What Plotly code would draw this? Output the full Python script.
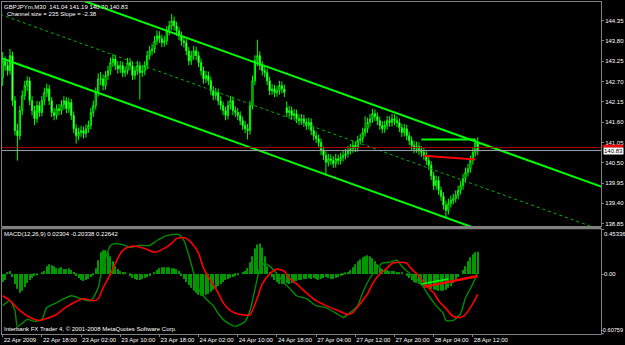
import plotly.graph_objects as go
from plotly.subplots import make_subplots

# ---------------- data ----------------
bars = list(range(195))  # M30 bar index, 0 = 22 Apr 2009 10:00

opens = [
    142.80, 143.26, 143.13, 142.99, 143.40, 142.18, 141.37, 141.23, 141.91, 142.32,
    142.59, 142.72, 142.18, 141.91, 141.69, 142.05, 141.86, 142.18, 142.40, 142.50,
    142.18, 141.86, 141.78, 141.96, 141.91, 142.07, 142.18, 141.96, 142.13, 141.78,
    141.42, 141.23, 141.32, 141.37, 141.29, 141.42, 141.51, 141.86, 142.05, 142.40,
    142.77, 142.77, 142.59, 142.86, 142.99, 143.21, 143.31, 143.13, 143.04, 143.13,
    142.94, 142.99, 143.21, 143.13, 142.86, 142.99, 143.13, 142.94, 142.99, 143.13,
    143.40, 143.53, 143.58, 143.80, 143.94, 143.86, 143.75, 143.80, 144.07, 144.21,
    144.34, 144.21, 144.07, 143.94, 143.80, 143.75, 143.53, 143.26, 143.40, 143.53,
    143.40, 143.21, 142.99, 142.77, 142.86, 142.72, 142.45, 142.32, 142.40, 142.18,
    142.05, 141.91, 141.78, 142.05, 142.18, 141.91, 141.86, 141.78, 141.64, 141.51,
    141.42, 141.37, 142.05, 142.72, 143.26, 143.40, 143.13, 142.99, 142.94, 142.72,
    142.45, 142.50, 142.40, 142.45, 142.59, 142.50, 141.99, 141.86, 141.91, 141.78,
    141.83, 141.69, 141.64, 141.69, 141.59, 141.51, 141.59, 141.37, 141.23, 141.15,
    141.05, 140.83, 140.70, 140.51, 140.61, 140.56, 140.48, 140.61, 140.56, 140.64,
    140.70, 140.75, 140.83, 140.88, 140.97, 140.91, 141.10, 141.15, 141.32, 141.42,
    141.59, 141.69, 141.83, 141.75, 141.64, 141.51, 141.42, 141.51, 141.64, 141.59,
    141.69, 141.64, 141.59, 141.45, 141.32, 141.42, 141.23, 141.10, 140.97, 140.88,
    140.94, 140.83, 140.78, 140.70, 140.56, 140.43, 140.15, 139.88, 140.02, 139.75,
    139.59, 139.35, 139.21, 139.40, 139.48, 139.53, 139.62, 139.75, 139.88, 140.07,
    140.24, 140.34, 140.56, 140.78, 141.04]

highs = [
    143.50, 143.38, 143.24, 143.58, 143.51, 142.31, 141.56, 142.04, 142.46, 142.72,
    142.84, 142.82, 142.30, 142.04, 142.18, 142.16, 142.31, 142.53, 142.64, 142.61,
    142.28, 141.98, 142.08, 142.09, 142.19, 142.30, 142.28, 142.25, 142.23, 141.89,
    141.54, 141.45, 141.50, 141.48, 141.54, 141.64, 141.99, 142.18, 142.54, 142.92,
    142.96, 142.89, 142.98, 143.12, 143.35, 143.44, 143.42, 143.25, 143.26, 143.24,
    143.11, 143.34, 143.33, 143.23, 143.11, 143.26, 143.24, 143.12, 143.25, 143.53,
    143.66, 143.72, 143.93, 144.08, 144.06, 143.97, 143.93, 144.20, 144.34, 144.53,
    144.46, 144.32, 144.18, 144.05, 143.92, 143.86, 143.64, 143.53, 143.66, 143.64,
    143.51, 143.32, 143.10, 142.99, 142.97, 142.83, 142.57, 142.53, 142.51, 142.30,
    142.16, 142.02, 142.18, 142.31, 142.29, 142.03, 141.98, 141.89, 141.75, 141.63,
    141.55, 142.18, 142.86, 143.41, 143.83, 143.52, 143.25, 143.11, 143.05, 142.83,
    142.63, 142.61, 142.58, 142.72, 142.70, 142.62, 142.16, 142.04, 142.02, 141.96,
    141.94, 141.81, 141.82, 141.80, 141.70, 141.72, 141.70, 141.48, 141.35, 141.26,
    141.16, 140.94, 140.81, 140.74, 140.73, 140.68, 140.74, 140.72, 140.77, 140.83,
    140.88, 140.96, 141.01, 141.10, 141.08, 141.23, 141.28, 141.45, 141.76, 141.72,
    141.82, 141.96, 141.94, 141.86, 141.75, 141.63, 141.64, 141.77, 141.76, 141.82,
    141.81, 141.76, 141.70, 141.56, 141.55, 141.53, 141.34, 141.21, 141.09, 141.07,
    141.05, 140.95, 140.90, 140.81, 140.68, 140.54, 140.26, 140.15, 140.13, 139.86,
    139.70, 139.47, 139.53, 139.61, 139.66, 139.75, 139.88, 140.01, 140.20, 140.37,
    140.47, 140.69, 140.91, 141.15, 141.19]

lows = [
    142.58, 142.99, 142.86, 142.89, 142.04, 141.24, 140.56, 141.12, 141.79, 142.20,
    142.44, 142.06, 141.78, 141.52, 141.58, 141.74, 141.76, 142.06, 142.28, 142.06,
    141.74, 141.65, 141.67, 141.79, 141.80, 141.95, 141.84, 141.85, 141.66, 141.30,
    141.02, 141.11, 141.20, 141.16, 141.18, 141.31, 141.40, 141.74, 141.94, 142.29,
    142.60, 142.46, 142.48, 142.74, 142.88, 143.09, 143.01, 142.91, 142.93, 142.82,
    142.83, 142.89, 143.01, 142.74, 142.75, 142.88, 142.21, 142.82, 142.87, 143.02,
    143.29, 143.41, 143.47, 143.69, 143.74, 143.63, 143.64, 143.69, 143.95, 144.09,
    144.08, 143.94, 143.82, 143.67, 143.62, 143.41, 143.14, 143.15, 143.29, 143.28,
    143.09, 142.86, 142.64, 142.66, 142.60, 142.33, 142.19, 142.21, 142.06, 141.93,
    141.79, 141.65, 141.67, 141.94, 141.79, 141.74, 141.66, 141.52, 141.39, 141.30,
    141.13, 141.26, 141.94, 142.60, 143.12, 143.01, 142.86, 142.81, 142.60, 142.33,
    142.34, 142.28, 142.29, 142.34, 142.38, 142.28, 141.74, 141.74, 141.66, 141.67,
    141.57, 141.52, 141.53, 141.47, 141.39, 141.40, 141.25, 141.11, 141.03, 140.93,
    140.71, 140.57, 140.15, 140.40, 140.44, 140.36, 140.37, 140.44, 140.45, 140.53,
    140.59, 140.64, 140.72, 140.77, 140.79, 140.80, 140.99, 141.04, 141.21, 141.31,
    141.48, 141.58, 141.63, 141.52, 141.39, 141.30, 141.31, 141.40, 141.47, 141.48,
    141.52, 141.47, 141.33, 141.20, 141.21, 141.11, 140.98, 140.85, 140.76, 140.77,
    140.71, 140.66, 140.58, 140.44, 140.31, 140.03, 139.76, 139.77, 139.63, 139.47,
    139.23, 139.00, 139.10, 139.29, 139.37, 139.42, 139.51, 139.64, 139.77, 139.96,
    140.13, 140.23, 140.45, 140.67, 140.70]

closes = [
    143.26, 143.13, 142.99, 143.40, 142.18, 141.37, 141.23, 141.91, 142.32, 142.59,
    142.72, 142.18, 141.91, 141.69, 142.05, 141.86, 142.18, 142.40, 142.50, 142.18,
    141.86, 141.78, 141.96, 141.91, 142.07, 142.18, 141.96, 142.13, 141.78, 141.42,
    141.23, 141.32, 141.37, 141.29, 141.42, 141.51, 141.86, 142.05, 142.40, 142.77,
    142.77, 142.59, 142.86, 142.99, 143.21, 143.31, 143.13, 143.04, 143.13, 142.94,
    142.99, 143.21, 143.13, 142.86, 142.99, 143.13, 142.94, 142.99, 143.13, 143.40,
    143.53, 143.58, 143.80, 143.94, 143.86, 143.75, 143.80, 144.07, 144.21, 144.34,
    144.21, 144.07, 143.94, 143.80, 143.75, 143.53, 143.26, 143.40, 143.53, 143.40,
    143.21, 142.99, 142.77, 142.86, 142.72, 142.45, 142.32, 142.40, 142.18, 142.05,
    141.91, 141.78, 142.05, 142.18, 141.91, 141.86, 141.78, 141.64, 141.51, 141.42,
    141.37, 142.05, 142.72, 143.26, 143.40, 143.13, 142.99, 142.94, 142.72, 142.45,
    142.50, 142.40, 142.45, 142.59, 142.50, 142.40, 141.86, 141.91, 141.78, 141.83,
    141.69, 141.64, 141.69, 141.59, 141.51, 141.59, 141.37, 141.23, 141.15, 141.05,
    140.83, 140.70, 140.51, 140.61, 140.56, 140.48, 140.61, 140.56, 140.64, 140.70,
    140.75, 140.83, 140.88, 140.97, 140.91, 141.10, 141.15, 141.32, 141.42, 141.59,
    141.69, 141.83, 141.75, 141.64, 141.51, 141.42, 141.51, 141.64, 141.59, 141.69,
    141.64, 141.59, 141.45, 141.32, 141.42, 141.23, 141.10, 140.97, 140.88, 140.94,
    140.83, 140.78, 140.70, 140.56, 140.43, 140.15, 139.88, 140.02, 139.75, 139.59,
    139.35, 139.21, 139.40, 139.48, 139.53, 139.62, 139.75, 139.88, 140.07, 140.24,
    140.34, 140.56, 140.78, 141.04, 140.83]

macd_hist = [
    -0.08, -0.06, 0.02, 0.03, -0.03, -0.10, -0.15, -0.19, -0.17, -0.13,
    -0.09, -0.06, -0.04, -0.02, -0.01, 0.00, 0.01, 0.03, 0.08, 0.10,
    0.09, 0.08, 0.06, 0.06, 0.07, 0.05, 0.05, 0.06, 0.04, 0.02,
    -0.02, -0.04, -0.06, -0.07, -0.06, -0.05, -0.03, -0.01, 0.06, 0.14,
    0.22, 0.24, 0.24, 0.22, 0.18, 0.13, 0.08, 0.05, 0.03, 0.02,
    0.01, 0.00, -0.02, -0.04, -0.05, -0.06, -0.06, -0.05, -0.04, -0.03,
    -0.02, 0.00, 0.02, 0.04, 0.06, 0.07, 0.07, 0.07, 0.07, 0.06,
    0.06, 0.05, 0.03, -0.02, -0.05, -0.08, -0.11, -0.14, -0.17, -0.19,
    -0.21, -0.22, -0.22, -0.21, -0.20, -0.18, -0.16, -0.14, -0.12, -0.10,
    -0.08, -0.06, -0.05, -0.04, -0.03, -0.02, -0.01, 0.00, 0.02, 0.03,
    0.06, 0.12, 0.18, 0.26, 0.30, 0.31, 0.27, 0.18, 0.08, 0.02,
    -0.03, -0.06, -0.08, -0.10, -0.10, -0.10, -0.09, -0.10, -0.09, -0.08,
    -0.07, -0.06, -0.06, -0.05, -0.05, -0.04, -0.05, -0.04, -0.05, -0.06,
    -0.05, -0.04, -0.03, -0.04, -0.05, -0.05, -0.04, -0.03, -0.02, -0.01,
    0.01, 0.02, 0.04, 0.07, 0.10, 0.13, 0.15, 0.17, 0.18, 0.19,
    0.18, 0.16, 0.13, 0.10, 0.07, 0.05, 0.04, 0.04, 0.03, 0.03,
    0.03, 0.02, 0.02, 0.01, 0.00, -0.02, -0.04, -0.06, -0.08, -0.09,
    -0.10, -0.11, -0.12, -0.13, -0.14, -0.15, -0.16, -0.16, -0.17, -0.17,
    -0.17, -0.16, -0.14, -0.12, -0.09, -0.06, -0.03, 0.00, 0.04, 0.08,
    0.13, 0.17, 0.20, 0.22, 0.22642]

macd_bars = [0, 3, 5, 6, 8, 10, 13, 16, 18, 22, 25, 28, 32, 36, 39, 40, 42, 44, 46, 50,
             52, 56, 60, 63, 67, 69, 72, 74, 76, 78, 80, 83, 86, 88, 91, 95, 99, 101, 102, 104,
             105, 107, 109, 111, 115, 117, 120, 124, 128, 132, 137, 139, 142, 145, 147, 150, 153, 155, 158, 161,
             163, 166, 169, 172, 174, 177, 180, 181, 184, 187, 189, 192, 194]
macd_main = [-0.32, -0.27, -0.37, -0.53, -0.50, -0.46, -0.48, -0.46, -0.34, -0.29, -0.25, -0.22, -0.25, -0.27, -0.14, -0.02, 0.16, 0.29, 0.31, 0.29,
             0.27, 0.29, 0.29, 0.34, 0.39, 0.40, 0.40, 0.34, 0.19, 0.01, -0.15, -0.25, -0.32, -0.40, -0.48, -0.53, -0.48, -0.37, -0.27, -0.04,
             0.06, 0.11, 0.08, 0.03, -0.09, -0.14, -0.22, -0.25, -0.32, -0.34, -0.41, -0.44, -0.39, -0.32, -0.19, -0.04, 0.06, 0.11, 0.12, 0.14,
             0.08, 0.01, -0.05, -0.14, -0.22, -0.32, -0.40, -0.47, -0.47, -0.40, -0.24, -0.10, 0.02304]

signal_bars = [0, 3, 7, 12, 15, 18, 22, 25, 29, 33, 37, 39, 41, 44, 47, 49, 52, 55, 58, 62,
               66, 69, 71, 74, 77, 80, 82, 85, 88, 90, 93, 97, 101, 104, 106, 109, 112, 115, 117, 120,
               124, 128, 132, 137, 141, 143, 146, 149, 151, 154, 157, 159, 162, 165, 167, 170, 173, 176, 178, 181,
               184, 187, 189, 192, 194]
macd_signal = [-0.22, -0.27, -0.37, -0.45, -0.47, -0.45, -0.41, -0.35, -0.29, -0.25, -0.27, -0.25, -0.14, 0.00, 0.16, 0.24, 0.28, 0.28, 0.26, 0.22,
               0.26, 0.31, 0.36, 0.37, 0.32, 0.21, 0.06, -0.07, -0.19, -0.29, -0.37, -0.41, -0.41, -0.24, -0.10, 0.00, 0.05, 0.03, -0.04, -0.10,
               -0.19, -0.27, -0.32, -0.37, -0.41, -0.39, -0.30, -0.20, -0.10, 0.00, 0.06, 0.11, 0.12, 0.11, 0.05, -0.02, -0.12, -0.19, -0.27, -0.35,
               -0.43, -0.44, -0.41, -0.30, -0.20338]

label_bars = [0, 16, 32, 48, 64, 80, 96, 112, 128, 144, 160, 176, 192]
time_labels = ["22 Apr 2009", "22 Apr 18:00", "23 Apr 02:00", "23 Apr 10:00", "23 Apr 18:00",
               "24 Apr 02:00", "24 Apr 10:00", "24 Apr 18:00", "27 Apr 04:00", "27 Apr 12:00",
               "27 Apr 20:00", "28 Apr 04:00", "28 Apr 12:00"]
price_ticks = [144.35, 143.80, 143.25, 142.70, 142.15, 141.60, 141.05, 140.50, 139.95, 139.40, 138.85]
macd_ticks = [0.45336, 0.0, -0.60759]
macd_tick_text = ["0.45336", "0.00", "-0.60759"]

# regression channel (upper line price at bar 0, slope per bar, channel size)
channel_upper_at_0 = 145.67
channel_slope = -0.0238
channel_size = 2.35
channel_span = [-1, 245]

bid_price = 140.83
ask_price = 140.91

# hand-drawn objects
top_line_bars, top_line_price = [171, 193], [141.13, 141.13]
low_line_bars, low_line_price = [172, 193], [140.69, 140.59]
macd_green_bars, macd_green_vals = [171, 182], [-0.10, -0.05]
macd_red_bars, macd_red_vals = [172, 194], [-0.13, -0.02]

# ---------------- figure ----------------
FONT = "Liberation Sans"
GRAY = "#808080"
W, H = 625, 345
ML, MR, MT, MB = 1, 23, 1, 11
PH = H - MT - MB
def py(p):  # pixel row -> paper y
    return (H - MB - p) / PH

fig = make_subplots(rows=2, cols=1, shared_xaxes=True, vertical_spacing=0)

fig.add_trace(go.Candlestick(
    x=bars, open=opens, high=highs, low=lows, close=closes,
    increasing=dict(line=dict(color="#00ff00", width=1), fillcolor="#000000"),
    decreasing=dict(line=dict(color="#00ff00", width=1), fillcolor="#ffffff"),
    whiskerwidth=0, hoverinfo="skip"), row=1, col=1)

def chan(offset):
    return [channel_upper_at_0 - offset + channel_slope * b for b in channel_span]

fig.add_trace(go.Scatter(x=channel_span, y=chan(0), mode="lines",
                         line=dict(color="#00ff00", width=2)), row=1, col=1)
fig.add_trace(go.Scatter(x=channel_span, y=chan(channel_size), mode="lines",
                         line=dict(color="#00ff00", width=2)), row=1, col=1)
fig.add_trace(go.Scatter(x=channel_span, y=chan(channel_size / 2), mode="lines",
                         line=dict(color="#00b400", width=1, dash="dot")), row=1, col=1)

fig.add_trace(go.Scatter(x=channel_span, y=[ask_price, ask_price], mode="lines",
                         line=dict(color="#b00000", width=1)), row=1, col=1)
fig.add_trace(go.Scatter(x=channel_span, y=[bid_price, bid_price], mode="lines",
                         line=dict(color="#9aa4ae", width=1)), row=1, col=1)

fig.add_trace(go.Scatter(x=top_line_bars, y=top_line_price, mode="lines",
                         line=dict(color="#00ff00", width=2)), row=1, col=1)
fig.add_trace(go.Scatter(x=low_line_bars, y=low_line_price, mode="lines",
                         line=dict(color="#ff0000", width=2)), row=1, col=1)

# MACD panel
fig.add_trace(go.Bar(x=bars, y=macd_hist, marker=dict(color="#009a00", line=dict(width=0)),
                     hoverinfo="skip"), row=2, col=1)
fig.add_trace(go.Scatter(x=macd_bars, y=macd_main, mode="lines",
                         line=dict(color="#008c00", width=1.4, shape="spline", smoothing=0.6)), row=2, col=1)
fig.add_trace(go.Scatter(x=signal_bars, y=macd_signal, mode="lines",
                         line=dict(color="#ff0000", width=1.6, shape="spline", smoothing=0.6)), row=2, col=1)
fig.add_trace(go.Scatter(x=macd_red_bars, y=macd_red_vals, mode="lines",
                         line=dict(color="#ff0000", width=2.5)), row=2, col=1)
fig.add_trace(go.Scatter(x=macd_green_bars, y=macd_green_vals, mode="lines",
                         line=dict(color="#00ff00", width=1.5)), row=2, col=1)

xr = [-0.285, 244.33]
axis_common = dict(showgrid=False, zeroline=False, showline=True, linecolor=GRAY,
                   linewidth=1, mirror=True)
fig.update_xaxes(range=xr, **axis_common)
fig.update_layout(
    width=W, height=H, margin=dict(l=ML, r=MR, t=MT, b=MB),
    paper_bgcolor="#000000", plot_bgcolor="#000000", showlegend=False, bargap=0.5,
    font=dict(family=FONT, size=6, color="#ffffff"),
    xaxis=dict(rangeslider=dict(visible=False), showticklabels=False, ticks=""),
    xaxis2=dict(tickmode="array", tickvals=label_bars, ticktext=time_labels, tickangle=0,
                ticks="outside", ticklen=2, tickcolor=GRAY, ticklabelposition="outside right",
                tickfont=dict(family=FONT, size=6, color="#ffffff")),
    yaxis=dict(domain=[py(226), 1], range=[138.778, 144.853], side="right",
               tickmode="array", tickvals=price_ticks,
               ticktext=["%.2f" % v for v in price_ticks],
               ticks="outside", ticklen=2, tickcolor=GRAY,
               tickfont=dict(family=FONT, size=6, color="#ffffff"), **axis_common),
    yaxis2=dict(domain=[0, py(229)], range=[macd_ticks[2], macd_ticks[0]], side="right",
                tickmode="array", tickvals=macd_ticks, showticklabels=False,
                ticks="outside", ticklen=2, tickcolor=GRAY, **axis_common),
)

# separator band between panels
fig.add_shape(type="rect", xref="paper", yref="paper", x0=0, x1=1, y0=py(229), y1=py(226),
              fillcolor=GRAY, line=dict(width=0), layer="above")
# ask price box
fig.add_shape(type="rect", xref="paper", yref="y", x0=1.003, x1=1.037, y0=ask_price, y1=ask_price + 0.08,
              fillcolor="#ff0000", line=dict(width=0))

ann_font = dict(family=FONT, size=6, color="#ffffff")
fig.add_annotation(xref="paper", yref="y2", x=1, y=macd_ticks[0], text=macd_tick_text[0],
                   xanchor="left", yanchor="top", xshift=1, showarrow=False, font=ann_font)
fig.add_annotation(xref="paper", yref="y2", x=1, y=macd_ticks[1], text=macd_tick_text[1],
                   xanchor="left", yanchor="middle", xshift=1, showarrow=False, font=ann_font)
fig.add_annotation(xref="paper", yref="y2", x=1, y=macd_ticks[2], text=macd_tick_text[2],
                   xanchor="left", yanchor="bottom", xshift=-1, showarrow=False,
                   font=dict(family=FONT, size=5.6, color="#ffffff"), borderpad=0)
fig.add_annotation(xref="paper", yref="y", x=1, y=bid_price, text="%.2f" % bid_price,
                   xanchor="left", yanchor="middle", xshift=2, showarrow=False,
                   font=dict(family=FONT, size=6, color="#000000"), bgcolor="#ffffff",
                   borderpad=0)

fig.add_annotation(xref="paper", yref="paper", x=0, y=py(6),
                   text="GBPJPYm,M30\u00a0\u00a0141.04 141.19 140.70 140.83",
                   xanchor="left", yanchor="middle", showarrow=False, font=ann_font)
fig.add_annotation(xref="paper", yref="paper", x=0, y=py(13.3), xshift=3,
                   text="Channel size = 235 Slope = -2.38",
                   xanchor="left", yanchor="middle", showarrow=False, font=ann_font)
fig.add_annotation(xref="paper", yref="paper", x=0, y=py(234),
                   text="MACD(12,26,9) 0.02304 -0.20338 0.22642",
                   xanchor="left", yanchor="middle", showarrow=False, font=ann_font)
fig.add_annotation(xref="paper", yref="paper", x=0, y=py(329),
                   text="Interbank FX Trader 4, \u00a9 2001-2008 MetaQuotes Software Corp.",
                   xanchor="left", yanchor="middle", showarrow=False, font=ann_font)

fig.write_html("out.html")
